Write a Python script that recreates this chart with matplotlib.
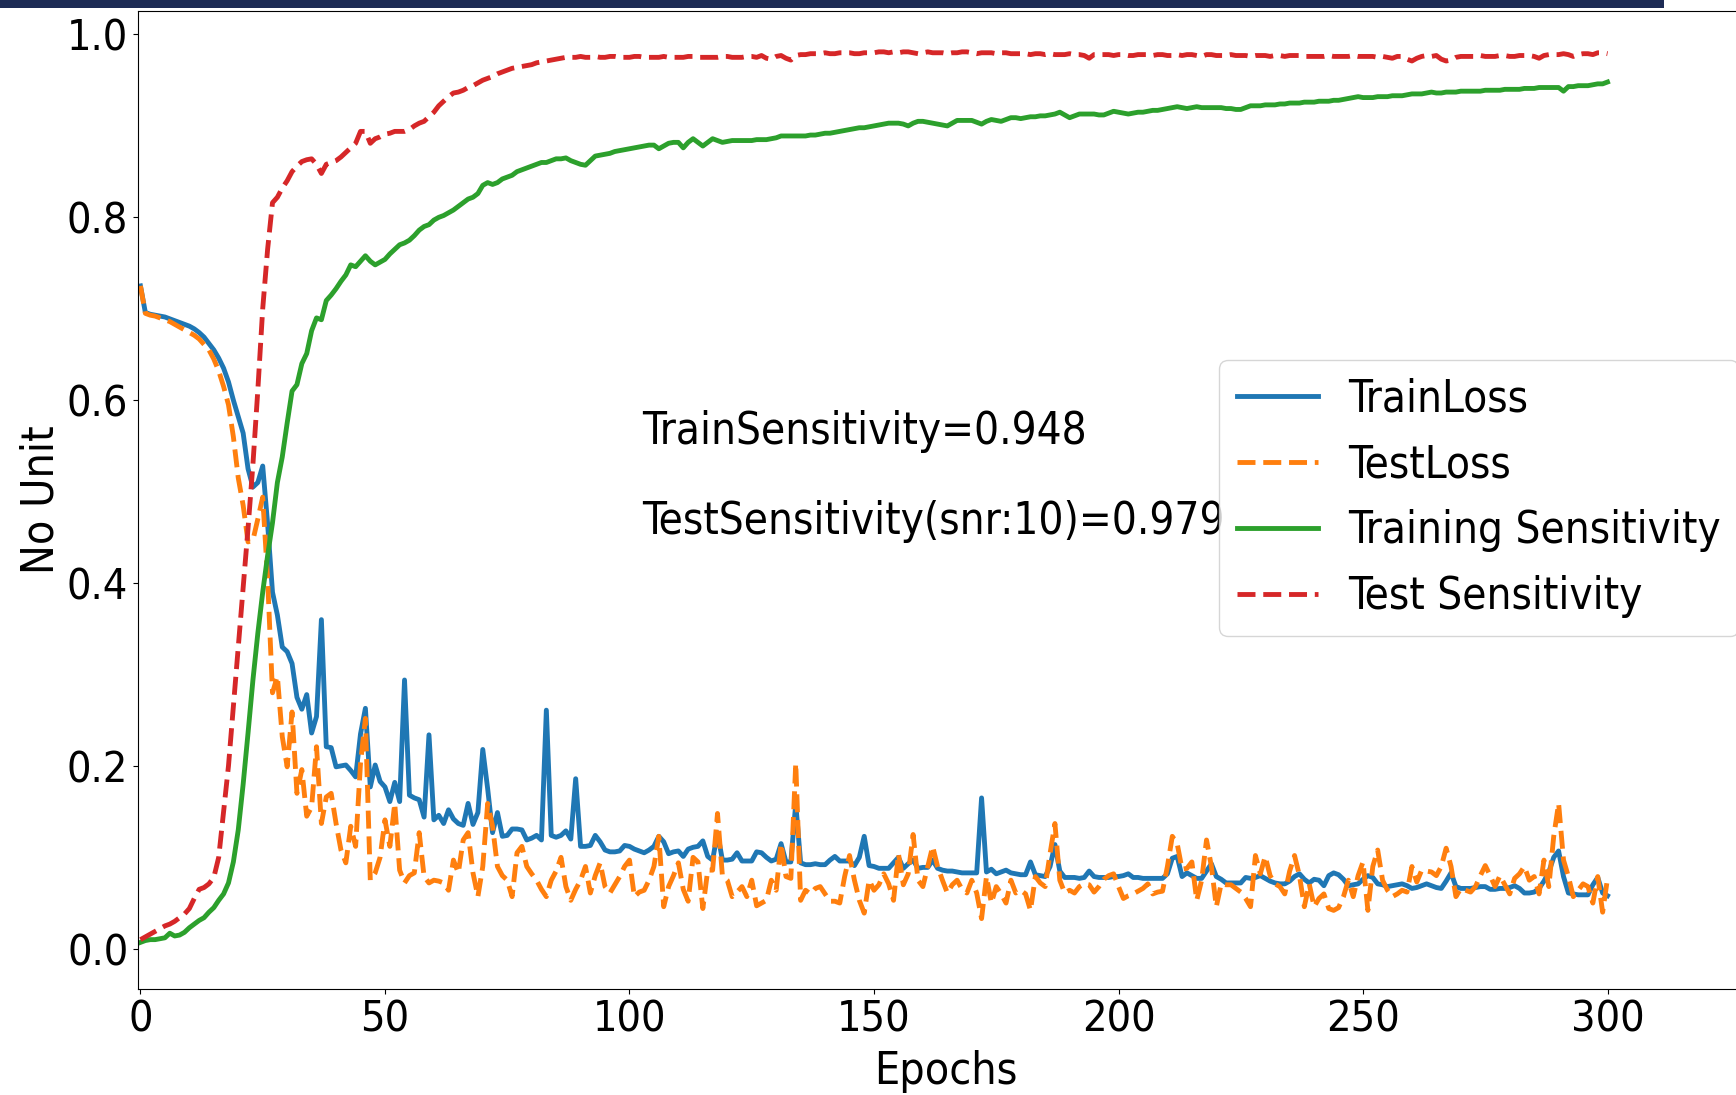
import numpy as np
import matplotlib
matplotlib.use("Agg")
import matplotlib.pyplot as plt
from matplotlib.patches import Rectangle

# values per epoch (rows of 10 epochs)
train_loss = [
    0.725, 0.696, 0.694, 0.693, 0.692, 0.691, 0.689, 0.687, 0.685, 0.683,
    0.681, 0.678, 0.674, 0.669, 0.662, 0.655, 0.646, 0.635, 0.620, 0.600,
    0.582, 0.564, 0.525, 0.505, 0.510, 0.528, 0.465, 0.390, 0.365, 0.330,
    0.325, 0.312, 0.275, 0.262, 0.278, 0.236, 0.254, 0.360, 0.221, 0.220,
    0.199, 0.200, 0.201, 0.195, 0.188, 0.235, 0.263, 0.177, 0.201, 0.183,
    0.177, 0.161, 0.182, 0.161, 0.294, 0.168, 0.165, 0.163, 0.144, 0.234,
    0.141, 0.146, 0.137, 0.152, 0.142, 0.137, 0.135, 0.159, 0.136, 0.149,
    0.218, 0.175, 0.127, 0.149, 0.123, 0.124, 0.131, 0.131, 0.130, 0.119,
    0.121, 0.124, 0.119, 0.261, 0.124, 0.122, 0.124, 0.129, 0.120, 0.186,
    0.112, 0.112, 0.113, 0.124, 0.117, 0.108, 0.106, 0.106, 0.107, 0.113,
    0.112, 0.109, 0.107, 0.105, 0.108, 0.112, 0.123, 0.117, 0.104, 0.106,
    0.107, 0.101, 0.109, 0.111, 0.112, 0.118, 0.101, 0.097, 0.127, 0.097,
    0.097, 0.098, 0.105, 0.096, 0.096, 0.096, 0.106, 0.105, 0.100, 0.096,
    0.098, 0.115, 0.095, 0.095, 0.159, 0.094, 0.092, 0.092, 0.093, 0.092,
    0.092, 0.097, 0.101, 0.096, 0.096, 0.096, 0.091, 0.100, 0.123, 0.091,
    0.090, 0.088, 0.088, 0.088, 0.094, 0.100, 0.088, 0.093, 0.097, 0.088,
    0.089, 0.089, 0.097, 0.088, 0.086, 0.085, 0.085, 0.084, 0.083, 0.083,
    0.083, 0.083, 0.165, 0.084, 0.087, 0.082, 0.084, 0.086, 0.083, 0.082,
    0.081, 0.081, 0.095, 0.081, 0.080, 0.079, 0.090, 0.114, 0.085, 0.078,
    0.078, 0.078, 0.077, 0.078, 0.085, 0.079, 0.078, 0.078, 0.078, 0.079,
    0.079, 0.080, 0.082, 0.078, 0.078, 0.077, 0.077, 0.077, 0.077, 0.077,
    0.082, 0.099, 0.101, 0.079, 0.083, 0.080, 0.077, 0.077, 0.085, 0.093,
    0.079, 0.076, 0.072, 0.072, 0.072, 0.072, 0.078, 0.077, 0.078, 0.080,
    0.077, 0.074, 0.072, 0.071, 0.071, 0.074, 0.079, 0.082, 0.076, 0.072,
    0.076, 0.075, 0.069, 0.080, 0.083, 0.081, 0.076, 0.069, 0.070, 0.071,
    0.076, 0.080, 0.078, 0.071, 0.070, 0.068, 0.069, 0.070, 0.071, 0.069,
    0.066, 0.067, 0.069, 0.071, 0.069, 0.067, 0.066, 0.074, 0.083, 0.068,
    0.066, 0.066, 0.066, 0.067, 0.068, 0.068, 0.065, 0.065, 0.066, 0.066,
    0.067, 0.069, 0.066, 0.061, 0.061, 0.062, 0.066, 0.074, 0.084, 0.100,
    0.107, 0.079, 0.061, 0.060, 0.059, 0.059, 0.059, 0.070, 0.078, 0.061,
    0.058,
]

test_loss = [
    0.725, 0.695, 0.693, 0.692, 0.690, 0.688, 0.686, 0.683, 0.680, 0.677,
    0.674, 0.671, 0.667, 0.661, 0.655, 0.645, 0.632, 0.615, 0.595, 0.560,
    0.515, 0.485, 0.445, 0.447, 0.470, 0.494, 0.405, 0.280, 0.298, 0.232,
    0.199, 0.259, 0.170, 0.196, 0.145, 0.155, 0.221, 0.137, 0.166, 0.170,
    0.137, 0.108, 0.094, 0.134, 0.112, 0.203, 0.252, 0.075, 0.083, 0.100,
    0.141, 0.112, 0.159, 0.086, 0.072, 0.080, 0.083, 0.127, 0.079, 0.072,
    0.075, 0.074, 0.072, 0.064, 0.097, 0.083, 0.119, 0.127, 0.083, 0.057,
    0.090, 0.159, 0.134, 0.090, 0.080, 0.075, 0.057, 0.105, 0.112, 0.090,
    0.082, 0.075, 0.065, 0.057, 0.075, 0.085, 0.100, 0.068, 0.053, 0.065,
    0.075, 0.090, 0.061, 0.080, 0.094, 0.068, 0.061, 0.070, 0.079, 0.090,
    0.097, 0.057, 0.062, 0.064, 0.075, 0.090, 0.123, 0.046, 0.068, 0.080,
    0.094, 0.065, 0.052, 0.100, 0.095, 0.044, 0.086, 0.086, 0.148, 0.080,
    0.075, 0.057, 0.062, 0.068, 0.057, 0.075, 0.047, 0.050, 0.053, 0.075,
    0.064, 0.115, 0.079, 0.077, 0.203, 0.053, 0.064, 0.060, 0.066, 0.068,
    0.060, 0.052, 0.052, 0.050, 0.079, 0.102, 0.075, 0.053, 0.039, 0.075,
    0.064, 0.070, 0.082, 0.071, 0.053, 0.104, 0.070, 0.082, 0.125, 0.075,
    0.068, 0.090, 0.112, 0.090, 0.075, 0.061, 0.070, 0.075, 0.065, 0.061,
    0.075, 0.061, 0.033, 0.079, 0.050, 0.068, 0.060, 0.050, 0.075, 0.061,
    0.064, 0.060, 0.042, 0.079, 0.072, 0.068, 0.104, 0.137, 0.075, 0.061,
    0.064, 0.061, 0.068, 0.071, 0.070, 0.062, 0.068, 0.076, 0.080, 0.082,
    0.068, 0.055, 0.058, 0.060, 0.063, 0.066, 0.071, 0.060, 0.062, 0.063,
    0.090, 0.123, 0.115, 0.087, 0.088, 0.095, 0.053, 0.075, 0.119, 0.090,
    0.046, 0.071, 0.070, 0.070, 0.066, 0.062, 0.055, 0.046, 0.102, 0.082,
    0.101, 0.080, 0.071, 0.068, 0.060, 0.085, 0.102, 0.080, 0.046, 0.071,
    0.046, 0.055, 0.060, 0.044, 0.042, 0.045, 0.057, 0.075, 0.057, 0.080,
    0.095, 0.042, 0.090, 0.108, 0.075, 0.064, 0.057, 0.060, 0.064, 0.062,
    0.090, 0.073, 0.086, 0.085, 0.084, 0.080, 0.090, 0.110, 0.090, 0.057,
    0.066, 0.064, 0.062, 0.068, 0.080, 0.091, 0.080, 0.068, 0.080, 0.070,
    0.060, 0.077, 0.082, 0.090, 0.075, 0.079, 0.060, 0.097, 0.068, 0.123,
    0.159, 0.097, 0.079, 0.057, 0.064, 0.071, 0.068, 0.050, 0.079, 0.040,
    0.077,
]

train_sens = [
    0.007, 0.009, 0.010, 0.010, 0.011, 0.012, 0.017, 0.014, 0.015, 0.018,
    0.023, 0.027, 0.031, 0.034, 0.040, 0.045, 0.053, 0.060, 0.072, 0.095,
    0.130, 0.180, 0.236, 0.294, 0.345, 0.390, 0.430, 0.466, 0.510, 0.538,
    0.575, 0.610, 0.617, 0.640, 0.651, 0.676, 0.690, 0.688, 0.709, 0.715,
    0.722, 0.730, 0.737, 0.748, 0.746, 0.752, 0.758, 0.752, 0.748, 0.751,
    0.754, 0.760, 0.765, 0.770, 0.772, 0.775, 0.780, 0.786, 0.790, 0.792,
    0.797, 0.800, 0.802, 0.805, 0.808, 0.812, 0.816, 0.820, 0.822, 0.826,
    0.835, 0.838, 0.836, 0.838, 0.842, 0.844, 0.846, 0.850, 0.852, 0.854,
    0.856, 0.858, 0.860, 0.860, 0.862, 0.864, 0.864, 0.865, 0.862, 0.860,
    0.858, 0.857, 0.862, 0.867, 0.868, 0.869, 0.870, 0.872, 0.873, 0.874,
    0.875, 0.876, 0.877, 0.878, 0.879, 0.879, 0.875, 0.878, 0.881, 0.882,
    0.882, 0.876, 0.882, 0.886, 0.882, 0.878, 0.882, 0.886, 0.884, 0.882,
    0.883, 0.884, 0.884, 0.884, 0.884, 0.884, 0.885, 0.885, 0.885, 0.886,
    0.887, 0.889, 0.889, 0.889, 0.889, 0.889, 0.889, 0.890, 0.890, 0.891,
    0.892, 0.892, 0.893, 0.894, 0.895, 0.896, 0.897, 0.898, 0.898, 0.899,
    0.900, 0.901, 0.902, 0.903, 0.903, 0.903, 0.902, 0.900, 0.903, 0.905,
    0.905, 0.904, 0.903, 0.902, 0.901, 0.900, 0.903, 0.906, 0.906, 0.906,
    0.906, 0.904, 0.902, 0.905, 0.907, 0.906, 0.905, 0.907, 0.909, 0.909,
    0.908, 0.909, 0.910, 0.910, 0.911, 0.911, 0.912, 0.913, 0.915, 0.912,
    0.909, 0.911, 0.913, 0.913, 0.913, 0.913, 0.912, 0.912, 0.914, 0.916,
    0.915, 0.914, 0.913, 0.914, 0.915, 0.915, 0.916, 0.917, 0.917, 0.918,
    0.919, 0.920, 0.921, 0.920, 0.919, 0.920, 0.921, 0.920, 0.920, 0.920,
    0.920, 0.920, 0.919, 0.919, 0.918, 0.918, 0.920, 0.922, 0.922, 0.922,
    0.923, 0.923, 0.923, 0.924, 0.924, 0.925, 0.925, 0.925, 0.926, 0.926,
    0.926, 0.927, 0.927, 0.927, 0.928, 0.928, 0.929, 0.930, 0.931, 0.932,
    0.931, 0.931, 0.931, 0.932, 0.932, 0.932, 0.933, 0.933, 0.933, 0.934,
    0.935, 0.935, 0.935, 0.936, 0.937, 0.936, 0.936, 0.937, 0.937, 0.937,
    0.938, 0.938, 0.938, 0.938, 0.938, 0.939, 0.939, 0.939, 0.939, 0.940,
    0.940, 0.940, 0.940, 0.941, 0.941, 0.941, 0.942, 0.942, 0.942, 0.942,
    0.942, 0.938, 0.943, 0.943, 0.944, 0.944, 0.944, 0.945, 0.946, 0.946,
    0.948,
]

test_sens = [
    0.010, 0.013, 0.016, 0.019, 0.022, 0.025, 0.027, 0.030, 0.034, 0.038,
    0.044, 0.055, 0.065, 0.067, 0.071, 0.078, 0.100, 0.150, 0.200, 0.265,
    0.330, 0.395, 0.460, 0.530, 0.611, 0.700, 0.765, 0.816, 0.822, 0.832,
    0.840, 0.850, 0.856, 0.861, 0.863, 0.864, 0.858, 0.848, 0.858, 0.860,
    0.862, 0.866, 0.871, 0.876, 0.881, 0.894, 0.894, 0.881, 0.886, 0.888,
    0.891, 0.892, 0.894, 0.894, 0.894, 0.896, 0.900, 0.903, 0.905, 0.910,
    0.915, 0.922, 0.927, 0.932, 0.936, 0.937, 0.939, 0.942, 0.944, 0.947,
    0.950, 0.952, 0.954, 0.957, 0.959, 0.961, 0.963, 0.964, 0.965, 0.966,
    0.967, 0.969, 0.970, 0.971, 0.972, 0.973, 0.974, 0.975, 0.975, 0.975,
    0.976, 0.975, 0.975, 0.976, 0.975, 0.975, 0.976, 0.976, 0.975, 0.975,
    0.975, 0.976, 0.976, 0.975, 0.975, 0.975, 0.975, 0.976, 0.975, 0.975,
    0.975, 0.975, 0.976, 0.976, 0.975, 0.975, 0.975, 0.975, 0.975, 0.976,
    0.976, 0.975, 0.975, 0.975, 0.976, 0.976, 0.975, 0.977, 0.974, 0.973,
    0.976, 0.977, 0.974, 0.972, 0.977, 0.978, 0.978, 0.979, 0.979, 0.979,
    0.980, 0.979, 0.979, 0.980, 0.980, 0.980, 0.979, 0.979, 0.980, 0.980,
    0.980, 0.981, 0.981, 0.980, 0.981, 0.980, 0.981, 0.981, 0.980, 0.979,
    0.980, 0.981, 0.980, 0.980, 0.980, 0.979, 0.980, 0.980, 0.981, 0.981,
    0.980, 0.979, 0.980, 0.980, 0.980, 0.979, 0.980, 0.980, 0.979, 0.979,
    0.979, 0.979, 0.978, 0.979, 0.979, 0.978, 0.979, 0.978, 0.978, 0.978,
    0.979, 0.978, 0.978, 0.977, 0.974, 0.978, 0.978, 0.978, 0.978, 0.977,
    0.978, 0.978, 0.977, 0.977, 0.978, 0.978, 0.978, 0.977, 0.978, 0.978,
    0.977, 0.977, 0.978, 0.977, 0.978, 0.978, 0.977, 0.976, 0.978, 0.978,
    0.977, 0.977, 0.977, 0.978, 0.977, 0.977, 0.977, 0.976, 0.977, 0.977,
    0.977, 0.976, 0.977, 0.977, 0.976, 0.977, 0.977, 0.977, 0.976, 0.976,
    0.976, 0.976, 0.976, 0.977, 0.976, 0.976, 0.976, 0.976, 0.977, 0.976,
    0.976, 0.976, 0.976, 0.975, 0.976, 0.975, 0.974, 0.976, 0.976, 0.973,
    0.971, 0.974, 0.976, 0.977, 0.976, 0.977, 0.973, 0.971, 0.972, 0.975,
    0.976, 0.976, 0.976, 0.976, 0.977, 0.976, 0.976, 0.976, 0.977, 0.977,
    0.976, 0.976, 0.977, 0.977, 0.977, 0.976, 0.974, 0.977, 0.978, 0.978,
    0.978, 0.979, 0.978, 0.976, 0.978, 0.979, 0.979, 0.978, 0.980, 0.980,
    0.979,
]

labels = ["TrainLoss", "TestLoss", "Training Sensitivity", "Test Sensitivity"]
final_train = 0.948
final_test = 0.979

plt.rcParams["font.family"] = "DejaVu Sans"
plt.rcParams["font.stretch"] = "condensed"

fig = plt.figure(figsize=(17.36, 10.95), dpi=100)
ax = fig.add_axes([0.0795, 0.0968, 0.931, 0.893])

lw = 3.5
ax.plot(np.arange(len(train_loss)), train_loss, color="tab:blue", lw=lw, label=labels[0])
ax.plot(np.arange(len(test_loss)), test_loss, color="tab:orange", lw=lw, ls="--", label=labels[1])
ax.plot(np.arange(len(train_sens)), train_sens, color="tab:green", lw=lw, label=labels[2])
ax.plot(np.arange(len(test_sens)), test_sens, color="tab:red", lw=lw, ls="--", label=labels[3])

ax.text(102.5, 0.566, f"TrainSensitivity={final_train}", fontsize=31.5, va="center")
ax.text(102.5, 0.467, f"TestSensitivity(snr:10)={final_test}", fontsize=31.5, va="center")

ax.set_xlim(-0.5, 330)
ax.set_ylim(-0.044, 1.0255)
ax.set_xticks([0, 50, 100, 150, 200, 250, 300])
ax.set_yticks([0.0, 0.2, 0.4, 0.6, 0.8, 1.0])
ax.tick_params(labelsize=31)
ax.set_xlabel("Epochs", fontsize=32, labelpad=7)
ax.set_ylabel("No Unit", fontsize=32, labelpad=3)

ax.legend(loc="upper left", bbox_to_anchor=(0.669, 0.643), borderaxespad=0,
          fontsize=31.5, handlelength=1.85, handletextpad=0.7, labelspacing=0.52)

# dark strip along the top edge of the screenshot
fig.patches.append(Rectangle((0, 0.9927), 0.9585, 0.0073, transform=fig.transFigure,
                             facecolor="#1d2b55", edgecolor="none"))

fig.savefig("out.png", dpi=100)
